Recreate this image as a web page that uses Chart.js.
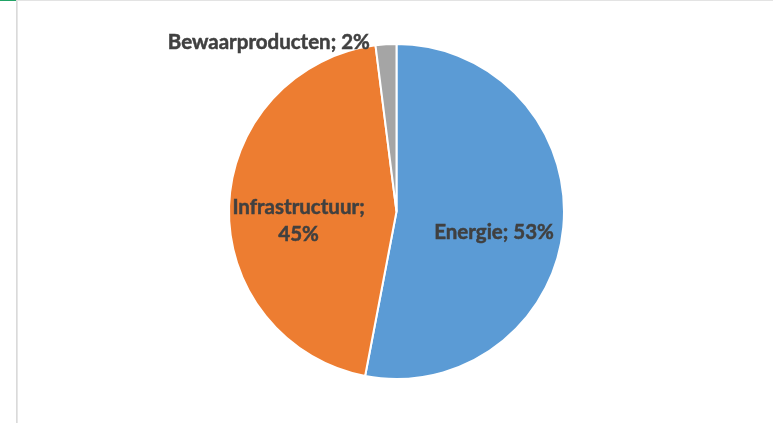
<!DOCTYPE html>
<html>
<head>
<meta charset="utf-8">
<script src="https://cdn.jsdelivr.net/npm/chart.js@4.4.1/dist/chart.umd.min.js"></script>
<style>
  html, body { margin: 0; padding: 0; background: #fff; }
  #wrap { position: relative; width: 773px; height: 423px; overflow: hidden; }
  /* sheet frame lines */
  .edge-top { position: absolute; left: 17px; top: 0; right: 0; height: 1px; background: #e3e3e3; }
  .edge-sel { position: absolute; left: 0; top: 0; width: 16px; height: 1px; background: #21a366; }
  .edge-left { position: absolute; left: 16px; top: 0; width: 2px; height: 423px; background: linear-gradient(to right, #d4d4d4, #ececec); }
  canvas { position: absolute; left: 0; top: 0; }
</style>
</head>
<body>
<div id="wrap">
  <canvas id="pieChart" width="773" height="423"></canvas>
  <div class="edge-top"></div>
  <div class="edge-sel"></div>
  <div class="edge-left"></div>
</div>
<script>
const categories = ['Energie', 'Infrastructuur', 'Bewaarproducten'];
const shares = [53, 45, 2];
const sliceColors = ['#5B9BD5', '#ED7D31', '#A5A5A5'];
// how each label wraps, Excel style "Name; 53%"
const labelLines = [
    ['Energie; 53%'],
    ['Infrastructuur;', '45%'],
    ['Bewaarproducten; 2%']
];

const labelFont = 'bold 20.5px Lato, "Open Sans", sans-serif';

const pieLabels = {
    id: 'pieLabels',
    afterDatasetsDraw(chart) {
        const { ctx } = chart;
        const arcs = chart.getDatasetMeta(0).data;
        ctx.save();
        ctx.font = labelFont;
        ctx.fillStyle = '#404040';
        ctx.strokeStyle = '#404040';
        ctx.lineWidth = 0.5;
        ctx.textBaseline = 'middle';
        const lineH = 27;
        const put = (t, px, py) => { ctx.fillText(t, px, py); ctx.strokeText(t, px, py); };
        arcs.forEach((arc, i) => {
            const { x, y, startAngle, endAngle, outerRadius } = arc.getProps(['x', 'y', 'startAngle', 'endAngle', 'outerRadius'], true);
            const mid = (startAngle + endAngle) / 2;
            const lines = labelLines[i];
            if (shares[i] < 5) {
                // thin slice: label sits outside, left of the slice
                const r = outerRadius + 2;
                const px = x + Math.cos(mid) * r - 16;
                const py = y + Math.sin(mid) * r;
                ctx.textAlign = 'right';
                put(lines[0], px, py);
            } else {
                const r = outerRadius * 0.585;
                const px = x + Math.cos(mid) * r;
                const py = y + Math.sin(mid) * r + 12;
                ctx.textAlign = 'center';
                const top = py - (lines.length - 1) * lineH / 2;
                lines.forEach((t, k) => put(t, px, top + k * lineH));
            }
        });
        ctx.restore();
    }
};

new Chart(document.getElementById('pieChart'), {
    type: 'pie',
    data: {
        labels: categories,
        datasets: [{
            data: shares,
            backgroundColor: sliceColors,
            borderColor: '#ffffff',
            borderWidth: 2,
            hoverOffset: 0
        }]
    },
    options: {
        responsive: false,
        animation: false,
        layout: { padding: { top: 43, bottom: 43, left: 20, right: 0 } },
        plugins: {
            legend: { display: false },
            tooltip: { enabled: false }
        }
    },
    plugins: [pieLabels]
});
</script>
</body>
</html>
